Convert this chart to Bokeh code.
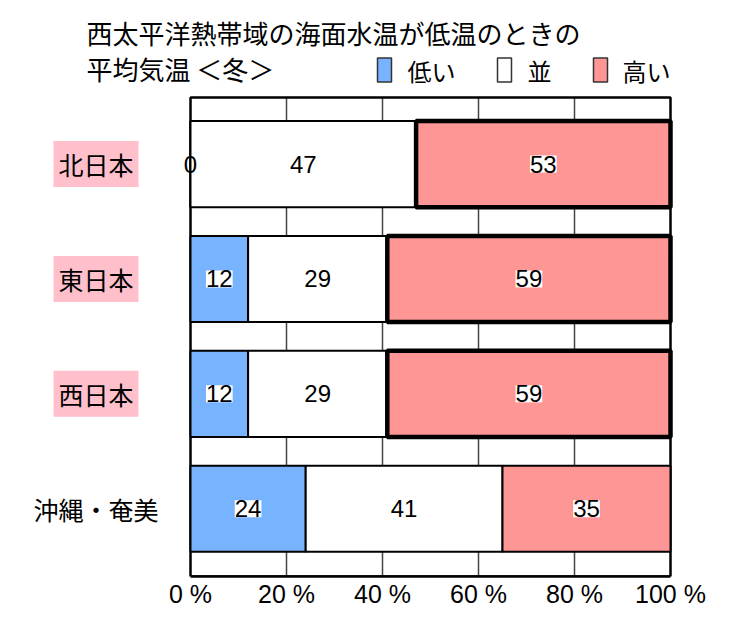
from bokeh.plotting import figure
from bokeh.models import (Range1d, FixedTicker, Label, LabelSet, ColumnDataSource)
from bokeh.core.properties import value
from bokeh.embed import file_html
from bokeh.resources import INLINE

# ---------------- data ----------------
regions = ["北日本", "東日本", "西日本", "沖縄・奄美"]
low = [0, 12, 12, 24]
normal = [47, 29, 29, 41]
high = [53, 59, 59, 35]
emphasized = [True, True, True, False]      # 高い emphasized (thick frame, pink label)
ticks = [0, 20, 40, 60, 80, 100]
tick_labels = ["0 %", "20 %", "40 %", "60 %", "80 %", "100 %"]
title_lines = ["西太平洋熱帯域の海面水温が低温のときの", "平均気温 ＜冬＞"]
legend_labels = ["低い", "並", "高い"]

# ---------------- style / layout ----------------
C_LOW, C_NORM, C_HIGH = "#77b3ff", "#ffffff", "#ff9696"
legend_colors = [C_LOW, C_NORM, C_HIGH]
CJK = "Noto Sans CJK JP"
LAT = "Liberation Sans"
W, H = 750, 640
FL, FR, FT, FB = 190, 670, 97, 576          # plot-area box in page pixels
Y_TOP, Y_BOT = -0.58, 3.59                  # category units at FT / FB
XPP = 100.0 / (FR - FL)                     # percent per pixel
YPP = (Y_BOT - Y_TOP) / (FB - FT)           # category units per pixel

def px_x(px):
    return (px - FL) * XPP

def px_y(py):
    return Y_TOP + (py - FT) * YPP

x_range = Range1d(px_x(0), px_x(W))
y_range = Range1d(Y_BOT, px_y(0))

p = figure(width=W, height=H, output_backend="svg", toolbar_location=None,
           x_range=x_range, y_range=y_range, y_axis_location=None,
           min_border_left=0, min_border_right=0, min_border_top=0,
           min_border_bottom=H - FB)
p.grid.visible = False
p.outline_line_color = None
p.background_fill_color = "white"
p.border_fill_color = "white"

ax = p.xaxis[0]
ax.bounds = (ticks[0], ticks[-1])
ax.ticker = FixedTicker(ticks=ticks)
ax.major_label_overrides = {t: l for t, l in zip(ticks, tick_labels)}
ax.major_tick_line_color = None
ax.minor_tick_line_color = None
ax.axis_line_color = "black"
ax.axis_line_width = 2.5
ax.major_label_text_font = LAT
ax.major_label_text_font_size = "25px"
ax.major_label_text_color = "black"
ax.major_label_standoff = -3

# ---------------- grid lines & plot-area border ----------------
gt = ticks[1:-1]
p.segment(x0=gt, x1=gt, y0=[Y_TOP] * len(gt), y1=[Y_BOT] * len(gt),
          line_color="#444444", line_width=1.5)
p.quad(left=[ticks[0]], right=[ticks[-1]], top=[Y_TOP], bottom=[Y_BOT],
       fill_color=None, line_color="black", line_width=2.5)

# ---------------- bars ----------------
ys = list(range(len(regions)))
norm_l = low
norm_r = [a + b for a, b in zip(low, normal)]
high_l = norm_r
high_r = [a + b for a, b in zip(norm_r, high)]
hw = [4.5 if e else 2 for e in emphasized]

src = ColumnDataSource(dict(y=ys, low_l=[0] * len(ys), low_r=low, norm_l=norm_l,
                            norm_r=norm_r, high_l=high_l, high_r=high_r, hw=hw))
BH = 0.75
p.hbar(y="y", left="low_l", right="low_r", height=BH, source=src,
       fill_color=C_LOW, line_color="black", line_width=2)
p.hbar(y="y", left="norm_l", right="norm_r", height=BH, source=src,
       fill_color=C_NORM, line_color="black", line_width=2)
p.hbar(y="y", left="high_l", right="high_r", height=BH, source=src,
       fill_color=C_HIGH, line_color="black", line_width="hw")

# ---------------- value labels ----------------
bg = dict(x=[], y=[], t=[])
nobg = dict(x=[], y=[], t=[])
for i in ys:
    segs = [(0, low[i], True), (norm_l[i], normal[i], False), (high_l[i], high[i], True)]
    for left, v, colored in segs:
        d = bg if (colored and v > 0) else nobg
        d["x"].append(left + v / 2.0)
        d["y"].append(i)
        d["t"].append(str(v))

p.add_layout(LabelSet(x="x", y="y", text="t", source=ColumnDataSource(bg),
                      text_align="center", text_baseline="middle",
                      text_font=value(LAT), text_font_size=value("24px"),
                      text_color="black", background_fill_color="white"))
p.add_layout(LabelSet(x="x", y="y", text="t", source=ColumnDataSource(nobg),
                      text_align="center", text_baseline="middle",
                      text_font=value(LAT), text_font_size=value("24px"),
                      text_color="black"))

# ---------------- category labels ----------------
for i, (name, e) in enumerate(zip(regions, emphasized)):
    p.add_layout(Label(x=px_x(95.5), y=i, text=name, text_align="center",
                       text_baseline="middle", text_font=CJK, text_font_size="25px",
                       text_color="black",
                       background_fill_color="pink" if e else None,
                       padding=5))

# ---------------- title ----------------
for line, py in zip(title_lines, [32, 68]):
    p.add_layout(Label(x=px_x(86), y=px_y(py), text=line, text_align="left",
                       text_baseline="middle", text_font=CJK, text_font_size="26px",
                       text_color="black"))

# ---------------- legend (drawn as keys + labels) ----------------
key_left = [377, 497, 593]
text_left = [407, 527, 622]
KW, KH, KY = 14, 24, 69.5
p.rect(x=[px_x(k + KW / 2.0) for k in key_left], y=[px_y(KY)] * 3,
       width=KW * XPP, height=KH * YPP, fill_color=legend_colors,
       line_color="#333333", line_width=1.5)
for lab, tx in zip(legend_labels, text_left):
    p.add_layout(Label(x=px_x(tx), y=px_y(KY), text=lab, text_align="left",
                       text_baseline="middle", text_font=CJK, text_font_size="24px",
                       text_color="black"))

open("out.html", "w").write(file_html(p, INLINE))
